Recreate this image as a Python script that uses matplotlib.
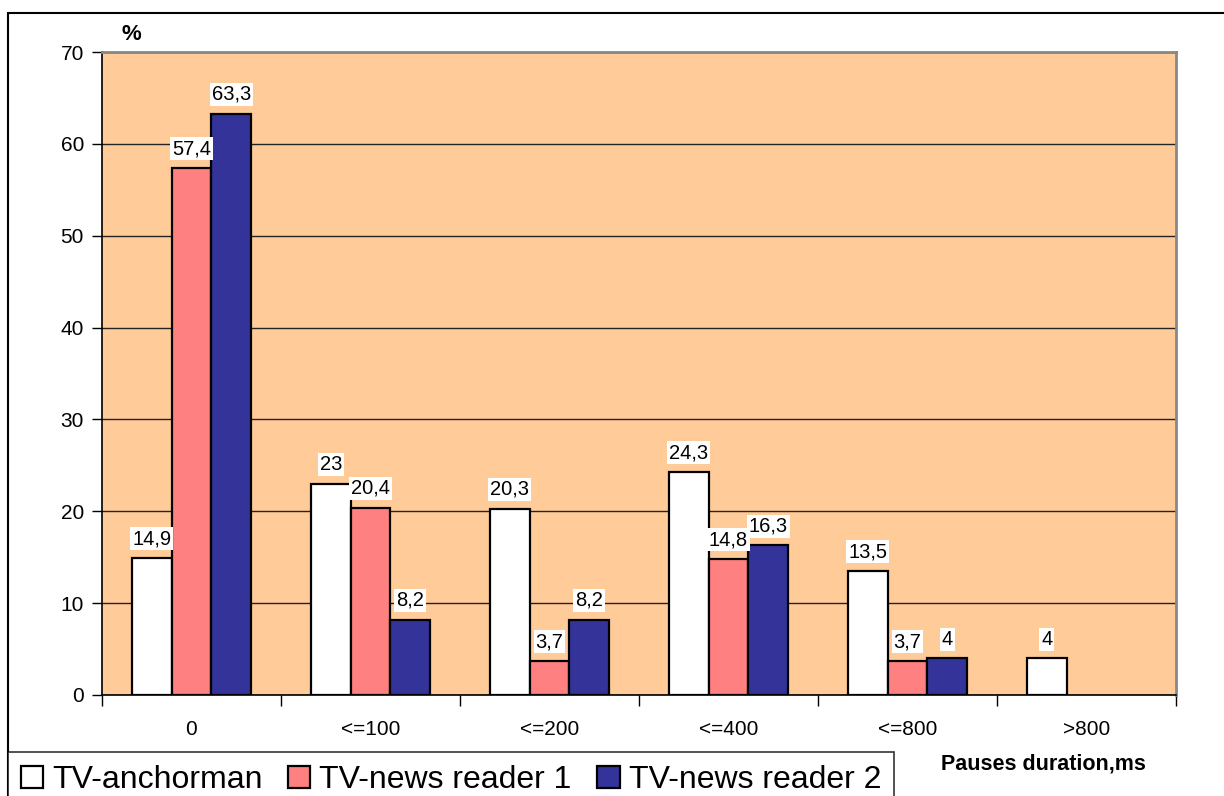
import matplotlib.pyplot as plt
import numpy as np
from matplotlib.patches import Rectangle

plt.rcParams['font.family'] = ['Liberation Sans', 'DejaVu Sans']

# Data
categories = ['0', '<=100', '<=200', '<=400', '<=800', '>800']
series_names = ['TV-anchorman', 'TV-news reader 1', 'TV-news reader 2']
anchorman = [14.9, 23, 20.3, 24.3, 13.5, 4]
reader1 = [57.4, 20.4, 3.7, 14.8, 3.7, None]
reader2 = [63.3, 8.2, 8.2, 16.3, 4, None]
colors = ['#FFFFFF', '#FF8080', '#333399']

W, H = 1224, 796
fig = plt.figure(figsize=(W / 100, H / 100), dpi=100)
ax = fig.add_axes([102 / W, 1 - 695 / H, (1176 - 102) / W, (695 - 52) / H])
ax.set_facecolor('#FFCC99')

x = np.arange(len(categories))
width = 0.222
handles = []
for i, (vals, col, name) in enumerate(zip([anchorman, reader1, reader2], colors, series_names)):
    offs = (i - 1) * width
    xs = [xx + offs for xx, v in zip(x, vals) if v is not None]
    vs = [v for v in vals if v is not None]
    bars = ax.bar(xs, vs, width, color=col, edgecolor='black', linewidth=1.6, label=name, zorder=3)
    handles.append(bars)
    for xx, v in zip(xs, vs):
        txt = ('%g' % v).replace('.', ',')
        ax.annotate(txt, (xx, v), xytext=(0, 7), textcoords='offset points',
                    ha='center', va='bottom', fontsize=14.5, zorder=5,
                    bbox=dict(facecolor='white', edgecolor='none', pad=1.5))

ax.set_xlim(-0.5, len(categories) - 0.5)
ax.set_ylim(0, 70)
ax.set_yticks(np.arange(0, 71, 10))
ax.tick_params(axis='y', labelsize=15, length=7, width=1, direction='out', pad=6)
ax.set_xticks(np.arange(-0.5, len(categories), 1))
ax.set_xticklabels([])
ax.tick_params(axis='x', length=8, width=1, direction='out')
for xx, lab in zip(x, categories):
    ax.text(xx, -3.8, lab, ha='center', va='center', fontsize=15)

ax.yaxis.grid(True, color='#222222', linewidth=1, zorder=1)
ax.set_axisbelow(True)
ax.spines['top'].set_color('#888888')
ax.spines['right'].set_color('#888888')
ax.spines['top'].set_linewidth(2)
ax.spines['right'].set_linewidth(2)
ax.spines['left'].set_linewidth(1.2)
ax.spines['bottom'].set_linewidth(1.2)

fig.text(131 / W, 1 - 34 / H, '%', fontsize=16, fontweight='bold', ha='center', va='center')
fig.text(1043 / W, 1 - 764 / H, 'Pauses duration,ms', fontsize=15.5, fontweight='bold',
         ha='center', va='center')

# outer chart frame
fig.patches.append(Rectangle((8 / W, -0.01), 1.0, 1 - 13 / H + 0.01, transform=fig.transFigure,
                             fill=False, edgecolor='black', linewidth=1.5))

leg = fig.legend(handles=handles, loc='lower left', bbox_to_anchor=(8 / W, -12 / H),
                 ncol=3, fontsize=23, frameon=True, fancybox=False, edgecolor='black',
                 handlelength=0.7, handleheight=0.7, handletextpad=0.28, columnspacing=0.8,
                 borderpad=0.4, borderaxespad=0)
leg.get_frame().set_linewidth(1.2)

fig.savefig('out.png', dpi=100)
